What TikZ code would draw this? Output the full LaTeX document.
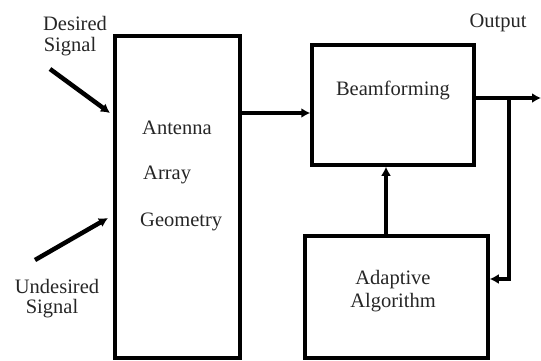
\documentclass[tikz,border=0pt]{standalone}
\usepackage{fontspec}
\setmainfont{Liberation Serif}
\usetikzlibrary{arrows.meta}

\tikzset{
  blk/.style={draw, line width=3.5pt, inner sep=0pt},
  lbl/.style={font=\fontsize{20.5}{24}\selectfont, text=black!85, inner sep=0pt},
  conn/.style={line width=3.5pt, -{Latex[length=9pt,width=10pt]}},
  sig/.style={conn, line width=4.5pt}
}

\begin{document}
\begin{tikzpicture}[x=1pt,y=-1pt]
  \useasboundingbox (0,0) rectangle (541,360);

  % blocks
  \node[blk, minimum width=125pt, minimum height=322pt] (ant) at (177.5,197) {};
  \node[blk, minimum width=162pt, minimum height=120pt] (beam) at (393,105) {};
  \node[blk, minimum width=183pt, minimum height=122pt] (alg) at (396.5,297) {};

  % texts
  \node[lbl, anchor=west] (t1) at (142,128) {Antenna};
  \node[lbl, anchor=west] (t2) at (143,175) {Array};
  \node[lbl, anchor=west] (t3) at (140,222) {Geometry};
  \node[lbl] (t4) at (393,90) {Beamforming};
  \node[lbl] (t5) at (393,280) {Adaptive};
  \node[lbl] (t6) at (393,303) {Algorithm};
  \node[lbl] (out) at (498,23) {Output};
  \node[lbl] (d1) at (75,23) {Desired};
  \node[lbl] (d2) at (70,47) {Signal};
  \node[lbl] (u1) at (57,286) {Undesired};
  \node[lbl] (u2) at (52,309) {Signal};

  % connector ends
  \coordinate (ds) at (50,69);
  \coordinate (dsend) at (110,113);
  \coordinate (us) at (35,260);
  \coordinate (usend) at (108,218);
  \coordinate (bin) at ([yshift=-8pt]beam.west);
  \coordinate (bout) at ([yshift=7pt]beam.east);
  \coordinate (oend) at (541,98);
  \coordinate (tap) at (509,98);
  \coordinate (ain) at ([yshift=18pt]alg.east);
  \coordinate (aup) at (386,236);

  % connectors
  \draw[sig] (ds) -- (dsend);
  \draw[sig] (us) -- (usend);
  \draw[conn] (ant.east |- bin) -- (bin);
  \draw[conn] (bout) -- (oend);
  \draw[conn] (tap) |- (ain);
  \draw[conn] (aup) -- (aup |- beam.south);
\end{tikzpicture}
\end{document}
